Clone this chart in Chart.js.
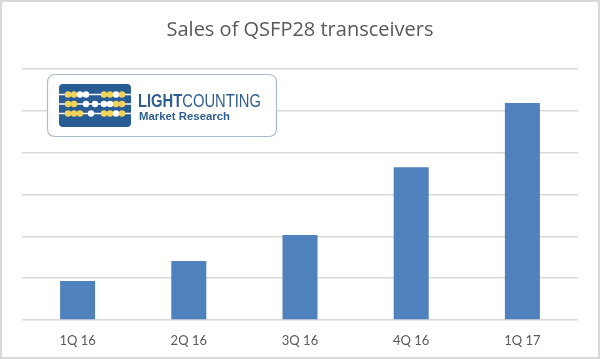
<!DOCTYPE html>
<html><head><meta charset="utf-8">
<script src="https://cdn.jsdelivr.net/npm/chart.js@4"></script>
<style>html,body{margin:0;padding:0;background:#fff}</style>
</head><body>
<canvas id="c" width="600" height="359"></canvas>
<script>
const categories = ['1Q 16', '2Q 16', '3Q 16', '4Q 16', '1Q 17'];
const salesValues = [0.93, 1.41, 2.03, 3.65, 5.19];
const yMin = 0, yMax = 6, yStep = 1;
const chartTitle = 'Sales of QSFP28 transceivers';
const logoLine1Bold = 'LIGHT', logoLine1Rest = 'COUNTING', logoLine2 = 'Market Research';

function rr(ctx, x, y, w, h, r) {
  ctx.beginPath();
  ctx.moveTo(x + r, y);
  ctx.lineTo(x + w - r, y); ctx.quadraticCurveTo(x + w, y, x + w, y + r);
  ctx.lineTo(x + w, y + h - r); ctx.quadraticCurveTo(x + w, y + h, x + w - r, y + h);
  ctx.lineTo(x + r, y + h); ctx.quadraticCurveTo(x, y + h, x, y + h - r);
  ctx.lineTo(x, y + r); ctx.quadraticCurveTo(x, y, x + r, y);
  ctx.closePath();
}

const decor = {
  id: 'decor',
  afterDraw(chart) {
    const ctx = chart.ctx;
    ctx.save();
    ctx.strokeStyle = '#d9d9d9'; ctx.lineWidth = 2;
    ctx.strokeRect(1, 1, 598, 357);
    rr(ctx, 47.5, 74.5, 229, 62, 8);
    ctx.fillStyle = '#ffffff'; ctx.fill();
    ctx.strokeStyle = '#a9bccd'; ctx.lineWidth = 1.2; ctx.stroke();
    rr(ctx, 59, 84, 72, 43, 4);
    ctx.fillStyle = '#275c94'; ctx.fill();
    const rowsY = [94.5, 104, 113.5];
    ctx.strokeStyle = '#ffffff'; ctx.lineWidth = 1.4;
    rowsY.forEach(y => { ctx.beginPath(); ctx.moveTo(59, y); ctx.lineTo(131, y); ctx.stroke(); });
    const beads = [
      [[68,'Y'],[74,'Y'],[80,'W'],[86,'W'],[104,'Y'],[110,'Y'],[116,'W'],[122,'Y']],
      [[68,'Y'],[74,'Y'],[86,'W'],[95,'W'],[104,'W'],[110,'W'],[116,'Y'],[122,'Y']],
      [[68,'Y'],[74,'Y'],[80,'Y'],[91,'W'],[104,'Y'],[110,'Y'],[116,'W'],[122,'Y']]
    ];
    beads.forEach((row, i) => row.forEach(([x, c]) => {
      ctx.beginPath(); ctx.arc(x, rowsY[i], 3.2, 0, Math.PI * 2);
      ctx.fillStyle = c === 'Y' ? '#f2d35b' : '#ffffff'; ctx.fill();
    }));
    ctx.fillStyle = '#2f5f8f';
    ctx.textBaseline = 'alphabetic';
    const fB = 'bold 18px "Liberation Sans", Arial, sans-serif';
    const fR = '18px "Liberation Sans", Arial, sans-serif';
    ctx.font = fB; const w1 = ctx.measureText(logoLine1Bold).width;
    ctx.font = fR; const w2 = ctx.measureText(logoLine1Rest).width;
    const sx = 123 / (w1 + w2);
    ctx.save();
    ctx.translate(138, 106.5); ctx.scale(sx, 1);
    ctx.font = fB; ctx.fillText(logoLine1Bold, 0, 0);
    ctx.font = fR; ctx.fillText(logoLine1Rest, w1, 0);
    ctx.restore();
    ctx.font = 'bold 11.5px "Liberation Sans", Arial, sans-serif';
    const w3 = ctx.measureText(logoLine2).width;
    ctx.save();
    ctx.translate(139, 119.5); ctx.scale(91 / w3, 1);
    ctx.fillText(logoLine2, 0, 0);
    ctx.restore();
    ctx.restore();
  }
};

new Chart(document.getElementById('c'), {
  type: 'bar',
  data: {
    labels: categories,
    datasets: [{
      data: salesValues,
      backgroundColor: '#4f81bd',
      borderWidth: 0,
      categoryPercentage: 1,
      barPercentage: 0.315
    }]
  },
  options: {
    responsive: false,
    animation: false,
    devicePixelRatio: 1,
    layout: { padding: { left: 22, right: 22, top: 0, bottom: 0 } },
    plugins: {
      legend: { display: false },
      tooltip: { enabled: false },
      title: {
        display: true,
        text: chartTitle,
        color: '#595959',
        font: { family: '"Open Sans", Lato, sans-serif', size: 20, weight: 'normal', lineHeight: 1.2 },
        padding: { top: 18, bottom: 27 }
      }
    },
    scales: {
      x: {
        grid: { display: false, drawTicks: false },
        border: { display: false },
        ticks: { color: '#595959', font: { family: 'Lato, "Open Sans", sans-serif', size: 13 }, padding: 13 },
        afterFit(s) { s.height = 39; }
      },
      y: {
        min: yMin, max: yMax,
        ticks: { display: false, stepSize: yStep },
        grid: { color: '#d9d9d9', lineWidth: 1.6, drawTicks: false },
        border: { display: false },
        afterFit(s) { s.width = 0; }
      }
    }
  },
  plugins: [decor]
});
</script>
</body></html>
